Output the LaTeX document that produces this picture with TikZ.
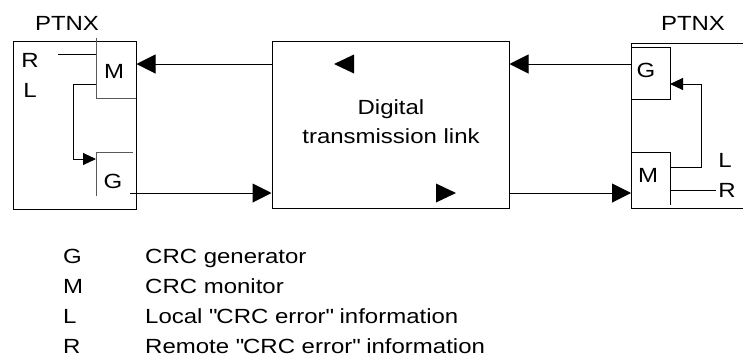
\documentclass[tikz,border=0pt]{standalone}
\usepackage{fontspec}
\setmainfont{Liberation Sans}[FakeStretch=1.17]
\usetikzlibrary{arrows.meta}
\begin{document}
\begin{tikzpicture}[x=1pt,y=-1pt,
  font=\fontsize{20.5}{24}\selectfont,
  lbl/.style={inner sep=0pt, anchor=base},
  lgd/.style={inner sep=0pt, anchor=base west},
  ln/.style={line width=1pt, black},
  sub/.style={line width=1pt, gray!70!black},
  bigarr/.style={ln, -{Triangle[length=19pt,width=19pt]}},
  smallarr/.style={ln, -{Triangle[length=13pt,width=12pt]}},
  box/.style={draw, line width=1pt, inner sep=0pt}]
\useasboundingbox (0,0) rectangle (743,360);

% main boxes
\node[box, minimum width=123pt, minimum height=168pt] (lp) at (74.5,125) {};
\node[box, minimum width=237pt, minimum height=167pt] (link) at (390.5,124.5) {};
\coordinate (rpTR) at (746,43);
\coordinate (rpTL) at (631,43);
\coordinate (rpBL) at (631,208);
\coordinate (rpBR) at (746,208);
\draw[ln] (rpTR) -- (rpTL) -- (rpBL) -- (rpBR);

% titles
\node[lbl] (lt) at (67,30) {PTNX};
\node[lbl] (rt) at (693,30) {PTNX};
\node[lbl] (d1) at (391,114) {Digital};
\node[lbl] (d2) at (391,143) {transmission link};

% left sub-boxes
\coordinate (lmT) at (96,38);
\coordinate (lmB) at (96,98);
\coordinate (lmR) at (136,98);
\draw[sub] (lmT) -- (lmB) -- (lmR);
\node[lbl] (lM) at (114,78) {M};
\coordinate (lgL) at (96,196);
\coordinate (lgT) at (96,152);
\coordinate (lgR) at (133,152);
\draw[sub] (lgL) -- (lgT) -- (lgR);
\node[lbl] (lG) at (113,188) {G};
\node[lbl] (lR) at (30,67) {R};
\node[lbl] (lL) at (30,97) {L};
\coordinate (lRs) at (58,54);
\draw[ln] (lRs) -- (lmT |- lRs);
\coordinate (lLa) at (96,84);
\coordinate (lLb) at (73,84);
\coordinate (lLc) at (73,159);
\draw[smallarr] (lLa) -- (lLb) -- (lLc) -- (lgT |- lLc);

% right sub-boxes
\coordinate (rgT) at (631,47);
\coordinate (rgTR) at (670,47);
\coordinate (rgBR) at (670,99);
\coordinate (rgB) at (631,99);
\draw[ln] (rgT) -- (rgTR) -- (rgBR) -- (rgB);
\node[lbl] (rG) at (646,77) {G};
\coordinate (rmT) at (631,152);
\coordinate (rmTR) at (670,152);
\coordinate (rmBR) at (670,205);
\draw[ln] (rmT) -- (rmTR) -- (rmBR);
\node[lbl] (rM) at (648,182) {M};
\node[lbl] (rL) at (725,167) {L};
\node[lbl] (rR) at (727,197) {R};
\coordinate (rLa) at (670,167);
\coordinate (rLb) at (701,167);
\coordinate (rLc) at (701,84);
\draw[smallarr] (rLa) -- (rLb) -- (rLc) -- (rgTR |- rLc);
\coordinate (rRa) at (670,190);
\coordinate (rRb) at (716,190);
\draw[ln] (rRa) -- (rRb);

% connectors
\coordinate (topy) at (0,64);
\coordinate (boty) at (0,193);
\draw[bigarr] (rpTL |- topy) -- (link.east |- topy);
\draw[bigarr] (link.west |- topy) -- (lp.east |- topy);
\coordinate (lgOut) at (130,193);
\draw[bigarr] (lgOut) -- (link.west |- boty);
\draw[bigarr] (link.east |- boty) -- (rpBL |- boty);

% direction marks inside the link
\fill (354,54.5) -- (334,64) -- (354,73.5) -- cycle;
\fill (436,183.5) -- (456,193) -- (436,202.5) -- cycle;

% legend
\node[lgd] (kG) at (63,263) {G};
\node[lgd] (kGt) at (145,263) {CRC generator};
\node[lgd] (kM) at (63,293) {M};
\node[lgd] (kMt) at (145,293) {CRC monitor};
\node[lgd] (kL) at (63,323) {L};
\node[lgd] (kLt) at (145,323) {Local \textquotedbl CRC error\textquotedbl{} information};
\node[lgd] (kR) at (63,353) {R};
\node[lgd] (kRt) at (145,353) {Remote \textquotedbl CRC error\textquotedbl{} information};
\end{tikzpicture}
\end{document}
